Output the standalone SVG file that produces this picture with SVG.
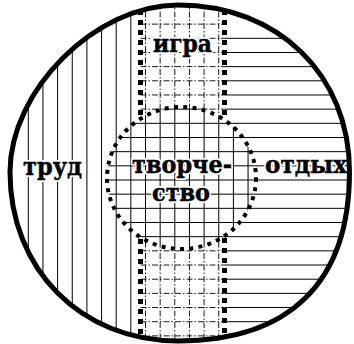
<svg xmlns="http://www.w3.org/2000/svg" width="354" height="344" viewBox="0 0 354 344">
<style>
.h{stroke:#000;stroke-width:1;fill:none}
.dd{stroke:#000;stroke-width:0.9;fill:none;stroke-dasharray:6 2 1.5 2}
.sb{stroke:#000;stroke-width:5;fill:none;stroke-dasharray:5 5}
.halo{fill:#fff;stroke:#fff;stroke-width:4;stroke-linejoin:round}
.ink{fill:#000;stroke:#000;stroke-width:0.5}
</style>
<defs>
<path id="outer" d="M178,5 C278,5 349.5,74.6 349.5,172 C349.5,282.2 289.8,341 178,341 C81.1,341 10,269.5 10,172 C10,90.2 95.7,5 178,5 Z"/>
<clipPath id="cOuter"><use href="#outer"/></clipPath>
<clipPath id="cInner"><ellipse cx="181.5" cy="178" rx="74.5" ry="71"/></clipPath>
</defs>
<rect width="354" height="344" fill="#fff"/>
<g clip-path="url(#cOuter)">
<g id="trud-hatch" class="h">
<line x1="28.3" y1="0" x2="28.3" y2="344"/>
<line x1="42.95" y1="0" x2="42.95" y2="344"/>
<line x1="57.6" y1="0" x2="57.6" y2="344"/>
<line x1="72.25" y1="0" x2="72.25" y2="344"/>
<line x1="86.9" y1="0" x2="86.9" y2="344"/>
<line x1="101.55" y1="0" x2="101.55" y2="344"/>
<line x1="116.2" y1="0" x2="116.2" y2="344"/>
<line x1="130.85" y1="0" x2="130.85" y2="344"/>
</g>
<g id="otdykh-hatch" class="h">
<line x1="224.5" y1="38.3" x2="360" y2="38.3"/>
<line x1="224.5" y1="52.47" x2="360" y2="52.47"/>
<line x1="224.5" y1="66.64" x2="360" y2="66.64"/>
<line x1="224.5" y1="80.81" x2="360" y2="80.81"/>
<line x1="224.5" y1="94.98" x2="360" y2="94.98"/>
<line x1="224.5" y1="109.15" x2="360" y2="109.15"/>
<line x1="224.5" y1="123.32" x2="360" y2="123.32"/>
<line x1="224.5" y1="137.49" x2="360" y2="137.49"/>
<line x1="224.5" y1="151.66" x2="360" y2="151.66"/>
<line x1="224.5" y1="165.83" x2="360" y2="165.83"/>
<line x1="224.5" y1="180" x2="360" y2="180"/>
<line x1="224.5" y1="194.17" x2="360" y2="194.17"/>
<line x1="224.5" y1="208.34" x2="360" y2="208.34"/>
<line x1="224.5" y1="222.51" x2="360" y2="222.51"/>
<line x1="224.5" y1="236.68" x2="360" y2="236.68"/>
<line x1="224.5" y1="250.85" x2="360" y2="250.85"/>
<line x1="224.5" y1="265.02" x2="360" y2="265.02"/>
<line x1="224.5" y1="279.19" x2="360" y2="279.19"/>
<line x1="224.5" y1="293.36" x2="360" y2="293.36"/>
<line x1="224.5" y1="307.53" x2="360" y2="307.53"/>
<line x1="224.5" y1="321.7" x2="360" y2="321.7"/>
</g>
<g id="igra-hatch" class="dd">
<line x1="145.5" y1="0" x2="145.5" y2="344"/>
<line x1="160.15" y1="0" x2="160.15" y2="344"/>
<line x1="174.8" y1="0" x2="174.8" y2="344"/>
<line x1="189.45" y1="0" x2="189.45" y2="344"/>
<line x1="204.1" y1="0" x2="204.1" y2="344"/>
<line x1="218.75" y1="0" x2="218.75" y2="344"/>
<line x1="140.5" y1="24.13" x2="224.5" y2="24.13"/>
<line x1="140.5" y1="38.3" x2="224.5" y2="38.3"/>
<line x1="140.5" y1="52.47" x2="224.5" y2="52.47"/>
<line x1="140.5" y1="66.64" x2="224.5" y2="66.64"/>
<line x1="140.5" y1="80.81" x2="224.5" y2="80.81"/>
<line x1="140.5" y1="94.98" x2="224.5" y2="94.98"/>
<line x1="140.5" y1="109.15" x2="224.5" y2="109.15"/>
<line x1="140.5" y1="236.68" x2="224.5" y2="236.68"/>
<line x1="140.5" y1="250.85" x2="224.5" y2="250.85"/>
<line x1="140.5" y1="265.02" x2="224.5" y2="265.02"/>
<line x1="140.5" y1="279.19" x2="224.5" y2="279.19"/>
<line x1="140.5" y1="293.36" x2="224.5" y2="293.36"/>
<line x1="140.5" y1="307.53" x2="224.5" y2="307.53"/>
<line x1="140.5" y1="321.7" x2="224.5" y2="321.7"/>
<line x1="140.5" y1="335.87" x2="224.5" y2="335.87"/>
</g>
<g id="igra-border" class="sb">
<line x1="140.5" y1="10" x2="140.5" y2="117"/>
<line x1="140.5" y1="239" x2="140.5" y2="344"/>
<line x1="224.5" y1="10" x2="224.5" y2="118"/>
<line x1="224.5" y1="238" x2="224.5" y2="344"/>
</g>
</g>
<g id="tvorchestvo">
<ellipse cx="181.5" cy="178" rx="74.5" ry="71" fill="#fff"/>
<g clip-path="url(#cInner)" class="h">
<line x1="116.2" y1="100" x2="116.2" y2="260"/>
<line x1="130.85" y1="100" x2="130.85" y2="260"/>
<line x1="145.5" y1="100" x2="145.5" y2="260"/>
<line x1="160.15" y1="100" x2="160.15" y2="260"/>
<line x1="174.8" y1="100" x2="174.8" y2="260"/>
<line x1="189.45" y1="100" x2="189.45" y2="260"/>
<line x1="204.1" y1="100" x2="204.1" y2="260"/>
<line x1="218.75" y1="100" x2="218.75" y2="260"/>
<line x1="233.4" y1="100" x2="233.4" y2="260"/>
<line x1="248.05" y1="100" x2="248.05" y2="260"/>
<line x1="100" y1="109.15" x2="260" y2="109.15"/>
<line x1="100" y1="123.32" x2="260" y2="123.32"/>
<line x1="100" y1="137.49" x2="260" y2="137.49"/>
<line x1="100" y1="151.66" x2="260" y2="151.66"/>
<line x1="100" y1="165.83" x2="260" y2="165.83"/>
<line x1="100" y1="180" x2="260" y2="180"/>
<line x1="100" y1="194.17" x2="260" y2="194.17"/>
<line x1="100" y1="208.34" x2="260" y2="208.34"/>
<line x1="100" y1="222.51" x2="260" y2="222.51"/>
<line x1="100" y1="236.68" x2="260" y2="236.68"/>
</g>
<ellipse cx="181.5" cy="178" rx="74.5" ry="71" fill="none" stroke="#000" stroke-width="4" stroke-dasharray="4 5.3"/>
</g>
<g font-family="DejaVu Serif, serif" font-weight="bold" font-size="25" text-anchor="middle" lengthAdjust="spacingAndGlyphs">
<g class="halo">
<text x="182" y="172.5" textLength="100" lengthAdjust="spacingAndGlyphs">творче-</text>
<text x="181" y="200.5" textLength="58" lengthAdjust="spacingAndGlyphs">ство</text>
<text x="52.5" y="175" textLength="59" lengthAdjust="spacingAndGlyphs">труд</text>
<text x="182.5" y="52" textLength="59" lengthAdjust="spacingAndGlyphs">игра</text>
<text x="306" y="173" textLength="82" lengthAdjust="spacingAndGlyphs">отдых</text>
</g>
<g id="tvorchestvo-label" class="ink">
<text x="182" y="172.5" textLength="100" lengthAdjust="spacingAndGlyphs">творче-</text>
<text x="181" y="200.5" textLength="58" lengthAdjust="spacingAndGlyphs">ство</text>
</g>
<g id="trud" class="ink"><text x="52.5" y="175" textLength="59" lengthAdjust="spacingAndGlyphs">труд</text></g>
<g id="igra" class="ink"><text x="182.5" y="52" textLength="59" lengthAdjust="spacingAndGlyphs">игра</text></g>
<g id="otdykh" class="ink"><text x="306" y="173" textLength="82" lengthAdjust="spacingAndGlyphs">отдых</text></g>
</g>
<use id="outline" href="#outer" fill="none" stroke="#000" stroke-width="5"/>
</svg>
